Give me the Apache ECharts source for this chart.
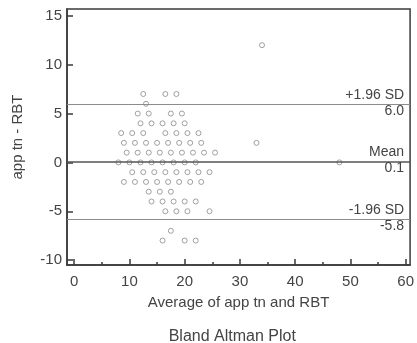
<html>
<head>
  <meta charset="utf-8" />
  <title>Bland Altman Plot</title>
  <script src="https://cdn.jsdelivr.net/npm/echarts@6/dist/echarts.min.js"></script>
</head>
<body style="margin:0; background:#fff">
  <div id="chart" style="width:417px; height:343px"></div>
  <script type="text/javascript">
  // averages of the two methods (x) and their differences (y), one point per pair
  var averages = [
    34,
    12.5, 16.5, 18.5,
    13,
    11.5, 13.5, 17.5, 19.5,
    12, 14, 16, 18, 20,
    8.5, 10.5, 12.5, 16.5, 18.5, 20.5, 22.5,
    9, 11, 13, 15, 17, 19, 21, 23, 33,
    9.5, 11.5, 13.5, 15.5, 17.5, 19.5, 21.5, 23.5, 25.5,
    8, 10, 12, 14, 16, 18, 20, 22, 48,
    10.5, 12.5, 14.5, 16.5, 18.5, 20.5, 22.5, 24.5,
    9, 11, 13, 15, 17, 19, 21, 23,
    13.5, 15.5, 17.5,
    14, 16, 18, 20, 22,
    16.5, 18.5, 20.5, 24.5,
    17.5,
    16, 20, 22
  ];
  var differences = [
    12,
    7, 7, 7,
    6,
    5, 5, 5, 5,
    4, 4, 4, 4, 4,
    3, 3, 3, 3, 3, 3, 3,
    2, 2, 2, 2, 2, 2, 2, 2, 2,
    1, 1, 1, 1, 1, 1, 1, 1, 1,
    0, 0, 0, 0, 0, 0, 0, 0, 0,
    -1, -1, -1, -1, -1, -1, -1, -1,
    -2, -2, -2, -2, -2, -2, -2, -2,
    -3, -3, -3,
    -4, -4, -4, -4, -4,
    -5, -5, -5, -5,
    -7,
    -8, -8, -8
  ];

  // limits of agreement
  var limitNames = ['+1.96 SD', 'Mean', '-1.96 SD'];
  var limitValues = [6.0, 0.1, -5.8];
  var limitColors = ['#8c8c8c', '#555', '#8c8c8c'];

  var xTicks = [0, 10, 20, 30, 40, 50, 60];
  var xMinorTicks = [5, 15, 25, 35, 45, 55];
  var yTicks = [-10, -5, 0, 5, 10, 15];

  var font = "'Liberation Sans', Arial, sans-serif";
  var textColor = '#444';
  var frameColor = '#3a3a3a';

  var points = averages.map(function (a, i) { return [a, differences[i]]; });

  var marks = [];
  limitValues.forEach(function (v, i) {
    marks.push({
      yAxis: v,
      lineStyle: { color: limitColors[i], width: i == 1 ? 1.5 : 1, type: 'solid' },
      label: { show: true, position: 'insideEndTop', formatter: limitNames[i], distance: [6, 2] }
    });
    marks.push({
      yAxis: v,
      lineStyle: { color: 'rgba(255,255,255,0)', width: 0.1 },
      label: { show: true, position: 'insideEndBottom', formatter: v.toFixed(1), distance: [6, 0] }
    });
  });

  var chart = echarts.init(document.getElementById('chart'));
  var option = {
    animation: false,
    title: {
      text: 'Bland Altman Plot',
      left: '54.5%',
      textAlign: 'center',
      top: 324,
      textStyle: { fontFamily: font, fontSize: 16, fontWeight: 'normal', color: textColor }
    },
    grid: {
      left: 67, right: 5, top: 9, bottom: 78,
      show: true, borderColor: frameColor, borderWidth: 1.5, backgroundColor: 'transparent'
    },
    xAxis: [{
      type: 'value', min: -1.3, max: 60.8,
      name: 'Average of app tn and RBT',
      nameLocation: 'middle', nameGap: 30,
      nameTextStyle: { fontFamily: font, fontSize: 15, color: textColor },
      axisLine: { show: true, onZero: false, lineStyle: { color: frameColor, width: 1.5 } },
      splitLine: { show: false },
      axisTick: { show: true, inside: true, length: 6, customValues: xTicks, lineStyle: { color: frameColor, width: 1.5 } },
      axisLabel: { customValues: xTicks, margin: 9, fontFamily: font, fontSize: 15, color: textColor }
    }, {
      type: 'value', min: -1.3, max: 60.8, position: 'bottom',
      axisLine: { show: false, onZero: false },
      splitLine: { show: false },
      axisLabel: { show: false },
      axisTick: { show: true, inside: true, length: 3, customValues: xMinorTicks, lineStyle: { color: frameColor, width: 1.5 } }
    }],
    yAxis: {
      type: 'value', min: -10.5, max: 15.7,
      name: 'app tn - RBT',
      nameLocation: 'middle', nameGap: 42, nameRotate: 90,
      nameTextStyle: { fontFamily: font, fontSize: 15, color: textColor },
      axisLine: { show: true, onZero: false, lineStyle: { color: frameColor, width: 1.5 } },
      splitLine: { show: false },
      axisTick: { show: true, inside: true, length: 6, customValues: yTicks, lineStyle: { color: frameColor, width: 1.5 } },
      axisLabel: { customValues: yTicks, margin: 5, fontFamily: font, fontSize: 15, color: textColor }
    },
    series: [{
      type: 'scatter',
      data: points,
      symbol: 'circle',
      symbolSize: 5,
      itemStyle: { color: 'rgba(255,255,255,0)', borderColor: '#8a8a8a', borderWidth: 1 },
      markLine: {
        silent: true,
        symbol: ['none', 'none'],
        animation: false,
        label: { fontFamily: font, fontSize: 14, color: textColor },
        data: marks
      }
    }]
  };
  chart.setOption(option);
  </script>
</body>
</html>
